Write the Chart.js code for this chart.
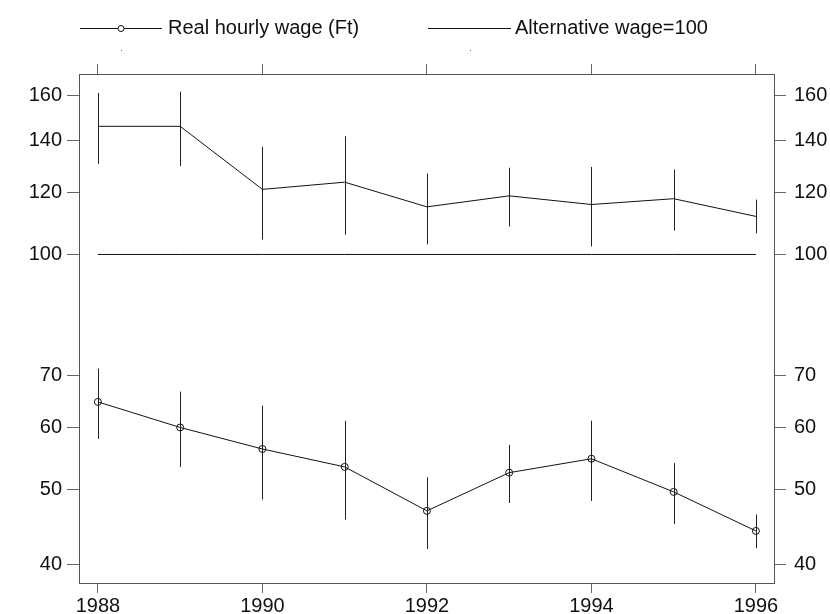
<!DOCTYPE html>
<html>
<head>
<meta charset="utf-8">
<script src="https://cdn.jsdelivr.net/npm/chart.js@4.4.1/dist/chart.umd.min.js"></script>
<style>
  html, body { margin:0; padding:0; background:#fff; }
  #wrap { width:830px; height:614px; position:relative; }
</style>
</head>
<body>
<div id="wrap"><canvas id="chartWage"></canvas></div>
<script>
// Datos
const years = [1988, 1989, 1990, 1991, 1992, 1993, 1994, 1995, 1996];
const xTicks = [1988, 1990, 1992, 1994, 1996];
const yTicks = [40, 50, 60, 70, 100, 120, 140, 160];

// serie superior (sin marcadores) con barras de error
const relWage = [146.0, 146.0, 121.2, 123.8, 115.1, 118.9, 115.9, 117.9, 111.9];
const relWageLow = [130.7, 129.8, 104.5, 106.0, 103.0, 108.6, 102.4, 107.3, 106.4];
const relWageHigh = [161.1, 161.8, 137.4, 141.8, 127.0, 129.2, 129.5, 128.5, 117.6];

// salario real por hora (Ft)
const realWage = [64.7, 60.0, 56.3, 53.4, 46.9, 52.5, 54.7, 49.6, 44.2];
const realWageLow = [58.0, 53.4, 48.5, 45.7, 41.9, 48.0, 48.3, 45.1, 42.0];
const realWageHigh = [71.4, 66.7, 64.0, 61.2, 51.8, 57.0, 61.2, 54.0, 46.4];

const altWage = [100, 100, 100, 100, 100, 100, 100, 100, 100];

const FONT = 'Liberation Sans, Arial, sans-serif';
const AXIS = '#555';

// barras de error verticales
const errorBars = {
  id: 'errorBars',
  beforeDatasetsDraw(chart) {
    const { ctx, scales } = chart;
    const sx = scales.x, sy = scales.y;
    ctx.save();
    ctx.strokeStyle = '#222';
    ctx.lineWidth = 1;
    [[relWageLow, relWageHigh], [realWageLow, realWageHigh]].forEach(([lo, hi]) => {
      years.forEach((yr, i) => {
        const px = Math.round(sx.getPixelForValue(yr)) + 0.5;
        ctx.beginPath();
        ctx.moveTo(px, sy.getPixelForValue(lo[i]));
        ctx.lineTo(px, sy.getPixelForValue(hi[i]));
        ctx.stroke();
      });
    });
    ctx.restore();
  }
};

// leyenda estilo original
const wageLegend = {
  id: 'wageLegend',
  afterDraw(chart) {
    const ctx = chart.ctx;
    const y = 28.5;
    ctx.save();
    ctx.strokeStyle = '#111';
    ctx.lineWidth = 1;
    ctx.beginPath(); ctx.moveTo(80, y); ctx.lineTo(162, y); ctx.stroke();
    ctx.beginPath(); ctx.arc(121, y, 3, 0, Math.PI * 2);
    ctx.fillStyle = '#fff'; ctx.fill(); ctx.stroke();
    ctx.beginPath(); ctx.moveTo(428, y); ctx.lineTo(511, y); ctx.stroke();
    ctx.fillStyle = '#111';
    ctx.font = '20px ' + FONT;
    ctx.textBaseline = 'middle';
    ctx.textAlign = 'left';
    ctx.fillText('Real hourly wage (Ft)', 168, y);
    ctx.fillText('Alternative wage=100', 515, y);
    ctx.fillStyle = '#666';
    ctx.fillRect(121, 50, 1, 1);
    ctx.fillRect(470, 50, 1, 1);
    ctx.restore();
  }
};

const setTicks = vals => scale => { scale.ticks = vals.map(v => ({ value: v })); };
const tickFont = { family: FONT, size: 20 };

const yBase = {
  type: 'logarithmic',
  min: 37.9,
  max: 170.4,
  afterBuildTicks: setTicks(yTicks),
  ticks: { autoSkip: false, color: '#111', font: tickFont, callback: v => String(v) },
  grid: { drawOnChartArea: false, drawTicks: true, tickLength: 12, color: '#666' },
  border: { display: true, color: AXIS }
};
const xBase = {
  type: 'linear',
  min: 1987.77,
  max: 1996.22,
  afterBuildTicks: setTicks(xTicks),
  ticks: { autoSkip: false, maxRotation: 0, color: '#111', font: tickFont, padding: 1, callback: v => String(v) },
  grid: { drawOnChartArea: false, drawTicks: true, tickLength: 10, color: '#666' },
  border: { display: true, color: AXIS }
};

new Chart(document.getElementById('chartWage'), {
  type: 'line',
  data: {
    datasets: [
      {
        label: 'Wage index',
        data: years.map((x, i) => ({ x, y: relWage[i] })),
        borderColor: '#111', borderWidth: 1, pointRadius: 0, tension: 0
      },
      {
        label: 'Alternative wage=100',
        data: years.map((x, i) => ({ x, y: altWage[i] })),
        borderColor: '#111', borderWidth: 1, pointRadius: 0, tension: 0
      },
      {
        label: 'Real hourly wage (Ft)',
        data: years.map((x, i) => ({ x, y: realWage[i] })),
        borderColor: '#111', borderWidth: 1, tension: 0,
        pointRadius: 3.5, pointStyle: 'circle',
        pointBackgroundColor: 'rgba(255,255,255,0)', pointBorderColor: '#111', pointBorderWidth: 1
      }
    ]
  },
  options: {
    responsive: true,
    maintainAspectRatio: false,
    animation: false,
    layout: { padding: 0 },
    plugins: { legend: { display: false }, tooltip: { enabled: false } },
    scales: {
      x: { ...xBase, position: 'bottom', afterFit: s => { s.height = 31; } },
      xTop: { ...xBase, position: 'top', ticks: { ...xBase.ticks, display: false },
              afterFit: s => { s.height = 74; } },
      y: { ...yBase, position: 'left', ticks: { ...yBase.ticks, padding: 5 },
           afterFit: s => { s.width = 79; } },
      yRight: { ...yBase, position: 'right', ticks: { ...yBase.ticks, padding: 8 },
                afterFit: s => { s.width = 56; } }
    }
  },
  plugins: [errorBars, wageLegend]
});
</script>
</body>
</html>
